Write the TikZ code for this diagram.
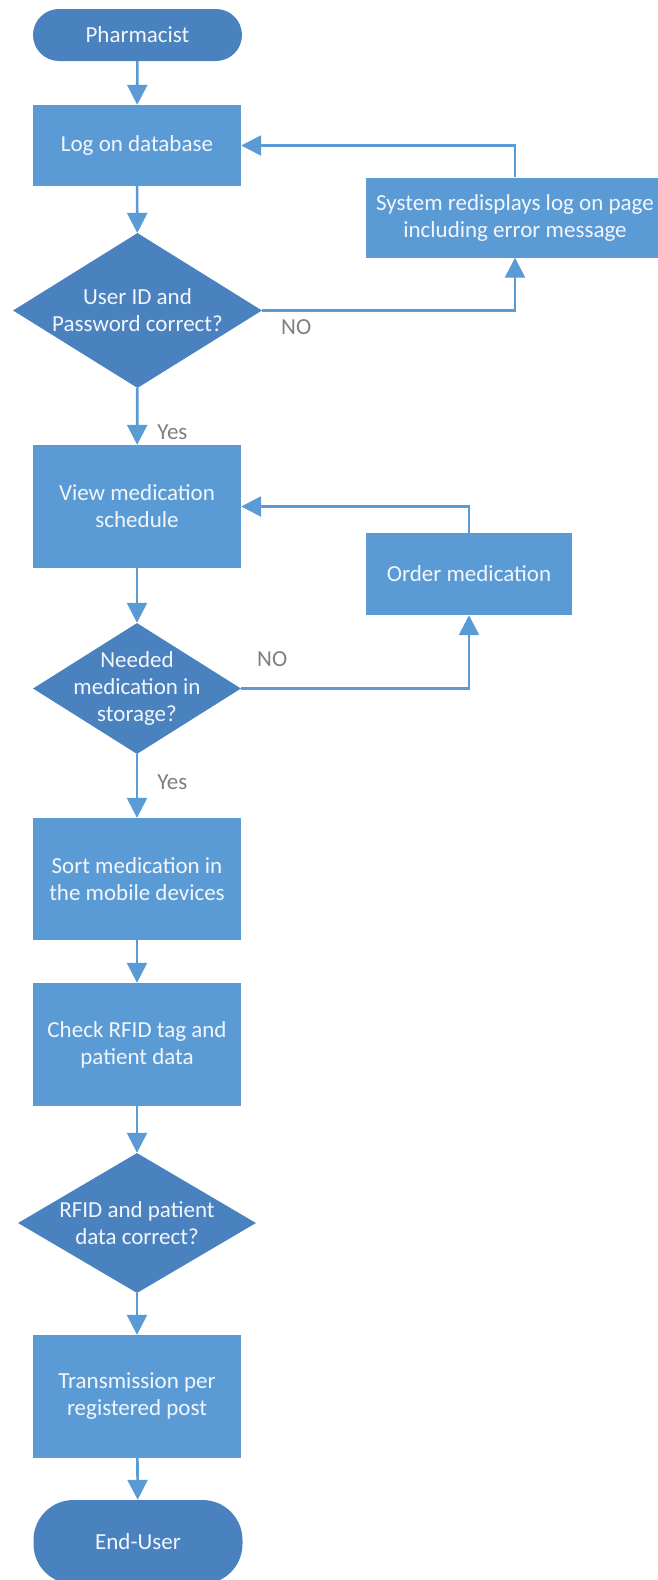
\documentclass[tikz,border=0pt]{standalone}
\usepackage{fontspec}
\setmainfont{Carlito}
\usetikzlibrary{shapes.geometric,arrows.meta}

\definecolor{boxblue}{HTML}{5B9BD5}
\definecolor{darkblue}{HTML}{4A81BF}
\definecolor{linkblue}{HTML}{5B9BD5}
\definecolor{labelgray}{HTML}{7F7F7F}
\definecolor{boxtext}{HTML}{F2F6FB}

\begin{document}
\begin{tikzpicture}[x=1pt,y=-1pt,
  every node/.style={font=\fontsize{23}{27}\selectfont},
  process/.style={rectangle, fill=boxblue, text=boxtext, minimum width=208pt,
    inner sep=0pt, align=center},
  terminal/.style={rectangle, fill=darkblue, text=boxtext, minimum width=209pt,
    inner sep=0pt},
  decision/.style={diamond, fill=darkblue, inner sep=0pt},
  dtext/.style={text=boxtext, align=center, inner sep=0pt},
  flow/.style={draw=linkblue, line width=2.6pt, -{Triangle[length=20pt,width=20pt]}},
  branch/.style={text=labelgray, inner sep=0pt}
]
\useasboundingbox (0,0) rectangle (657,1580);

% main column
\node[terminal, rounded corners=26pt, minimum height=52pt] (start) at (137.5,35) {Pharmacist};
\node[process, minimum height=81pt] (logon) at (137,145.5) {Log on database};
\node[decision, minimum width=249pt, minimum height=155pt,
  label={[dtext]center:{User ID and\\Password correct?}}] (d1) at (137.5,310.5) {};
\node[process, minimum height=123pt] (view) at (137,506.5) {View medication\\schedule};
\node[decision, minimum width=208pt, minimum height=131pt,
  label={[dtext]center:{Needed\\medication in\\storage?}}] (d2) at (137,688.5) {};
\node[process, minimum height=122pt] (sort) at (137,879) {Sort medication in\\the mobile devices};
\node[process, minimum height=123pt] (check) at (137,1044.5) {Check RFID tag and\\patient data};
\node[decision, minimum width=238pt, minimum height=140pt,
  label={[dtext]center:{RFID and patient\\data correct?}}] (d3) at (137,1223) {};
\node[process, minimum height=123pt] (trans) at (137,1396.5) {Transmission per\\registered post};
\node[terminal, rounded corners=40pt, minimum height=84pt] (finish) at (138,1542) {End-User};

% side branches
\node[process, minimum width=298pt, minimum height=80pt] (redisplay) at (515,217.5)
  {System redisplays log on page\\including error message};
\node[process, minimum width=206pt, minimum height=82pt] (order) at (469,574) {Order medication};

% connectors
\draw[flow] (start) -- (logon);
\draw[flow] (logon) -- (d1);
\draw[flow] (d1) -- (view)
  node[branch, at end, anchor=west, xshift=19pt, yshift=13pt] {Yes};
\draw[flow] (view) -- (d2);
\draw[flow] (d2) -- (sort)
  node[branch, at end, anchor=west, xshift=19pt, yshift=36pt] {Yes};
\draw[flow] (sort) -- (check);
\draw[flow] (check) -- (d3);
\draw[flow] (d3) -- (trans);
\draw[flow] (trans) -- (finish);

\draw[flow] (d1.east) -| (redisplay.south)
  node[branch, pos=0, xshift=34pt, yshift=-17pt] {NO};
\draw[flow] (redisplay.north) |- (logon.east);
\draw[flow] (d2.east) -| (order.south)
  node[branch, pos=0, xshift=31pt, yshift=29pt] {NO};
\draw[flow] (order.north) |- (view.east);
\end{tikzpicture}
\end{document}
